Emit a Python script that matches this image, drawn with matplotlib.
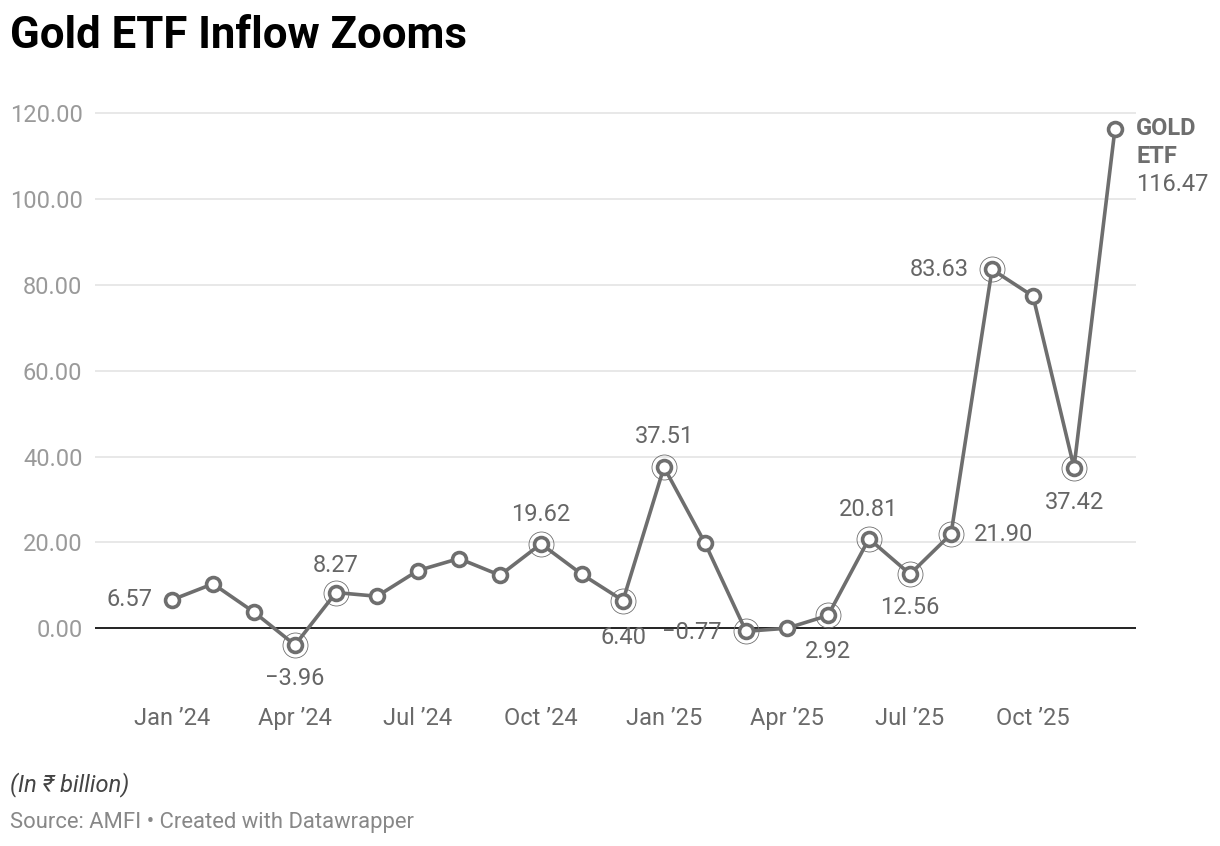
import matplotlib.pyplot as plt

plt.rcParams['font.family'] = ['Roboto', 'DejaVu Sans']

# monthly gold ETF inflows, Jan 2024 .. Dec 2025 (INR billion)
months = ['Jan 24', 'Feb 24', 'Mar 24', 'Apr 24', 'May 24', 'Jun 24',
          'Jul 24', 'Aug 24', 'Sep 24', 'Oct 24', 'Nov 24', 'Dec 24',
          'Jan 25', 'Feb 25', 'Mar 25', 'Apr 25', 'May 25', 'Jun 25',
          'Jul 25', 'Aug 25', 'Sep 25', 'Oct 25', 'Nov 25', 'Dec 25']
inflow = [6.57, 10.3, 3.7, -3.96, 8.27, 7.4,
          13.4, 16.2, 12.3, 19.62, 12.5, 6.40,
          37.51, 19.8, -0.77, -0.05, 2.92, 20.81,
          12.56, 21.90, 83.63, 77.4, 37.42, 116.47]

# points that get a ring + value label
ringed = [3, 4, 9, 11, 12, 14, 16, 17, 18, 19, 20, 22]

tick_pos = [0, 3, 6, 9, 12, 15, 18, 21]
tick_labels = ['Jan \u201924', 'Apr \u201924', 'Jul \u201924', 'Oct \u201924',
               'Jan \u201925', 'Apr \u201925', 'Jul \u201925', 'Oct \u201925']
yticks = [0, 20, 40, 60, 80, 100, 120]

# label placement: index -> (dx px, dy px, ha, va)
label_pos = {0: (-20, 0, 'right', 'center'),
             3: (0, -22, 'center', 'top'),
             4: (0, 16, 'center', 'bottom'),
             9: (0, 18, 'center', 'bottom'),
             11: (0, -25, 'center', 'top'),
             12: (0, 19, 'center', 'bottom'),
             14: (-24, -1, 'right', 'center'),
             16: (0, -25, 'center', 'top'),
             17: (0, 18, 'center', 'bottom'),
             18: (0, -22, 'center', 'top'),
             19: (23, 0, 'left', 'center'),
             20: (-23, 0, 'right', 'center'),
             22: (0, -23, 'center', 'top')}

PX = 0.72  # pixels -> points at dpi 100
W, H = 1220, 846
fig = plt.figure(figsize=(W / 100, H / 100), dpi=100)
# axes box in pixels: x 95..1136, y 100..700
ax = fig.add_axes([95 / W, 1 - 700 / H, (1136 - 95) / W, 600 / H])

ppu = (628 - 113.5) / 120.0
ax.set_ylim(-(700 - 628) / ppu, (628 - 100) / ppu)
ax.set_xlim((95 - 172) / 41.0, (1136 - 172) / 41.0)

x = list(range(len(inflow)))
line_col = '#6e6e6e'
lab_col = '#666666'
ax.plot(x, inflow, color=line_col, lw=2.6, zorder=3, solid_joinstyle='round')
ax.plot(x, inflow, ls='none', marker='o', ms=10, mfc='white', mec=line_col,
        mew=2.6, zorder=4)
ax.plot([x[i] for i in ringed], [inflow[i] for i in ringed], ls='none',
        marker='o', ms=18, mfc='none', mec=line_col, mew=0.6, zorder=4)

for i, (dx, dy, ha, va) in label_pos.items():
    v = inflow[i]
    txt = ('%.2f' % v).replace('-', '\u2212')
    ax.annotate(txt, (x[i], v), xytext=(dx * PX, dy * PX),
                textcoords='offset points', ha=ha, va=va, fontsize=17,
                color=lab_col, zorder=5)

# end label
last = len(inflow) - 1
for k, (txt, fw) in enumerate([('GOLD', 'bold'), ('ETF', 'bold'),
                               ('%.2f' % inflow[last], 'normal')]):
    ax.annotate(txt, (x[last], inflow[last]), xytext=(21 * PX, -28 * k * PX),
                textcoords='offset points', ha='left', va='center', fontsize=17,
                fontweight=fw, color=line_col if fw == 'bold' else lab_col)

# grid and axes styling
for yv in yticks:
    if yv == 0:
        ax.axhline(0, color='#111111', lw=1.3, zorder=2)
    else:
        ax.axhline(yv, color='#e2e2e2', lw=1.1, zorder=1)
for s in ax.spines.values():
    s.set_visible(False)
ax.set_yticks(yticks)
ax.set_yticklabels(['%.2f' % v for v in yticks], fontsize=17, color='#9a9a9a')
ax.set_xticks(tick_pos)
ax.set_xticklabels(tick_labels, fontsize=17, color='#6a6a6a')
ax.tick_params(axis='both', length=0)
ax.tick_params(axis='y', pad=9)
ax.tick_params(axis='x', pad=5)

fig.text(10 / W, 1 - 36 / H, 'Gold ETF Inflow Zooms', fontsize=31.5, fontweight='bold',
         color='black', va='center', ha='left')
fig.text(10 / W, 1 - 785 / H, '(In \u20b9 billion)', fontsize=17, style='italic',
         color='#444444', va='center', ha='left')
fig.text(10 / W, 1 - 822 / H, 'Source: AMFI \u2022 Created with Datawrapper', fontsize=15.8,
         color='#888888', va='center', ha='left')

fig.savefig('out.png', dpi=100, facecolor='white')
